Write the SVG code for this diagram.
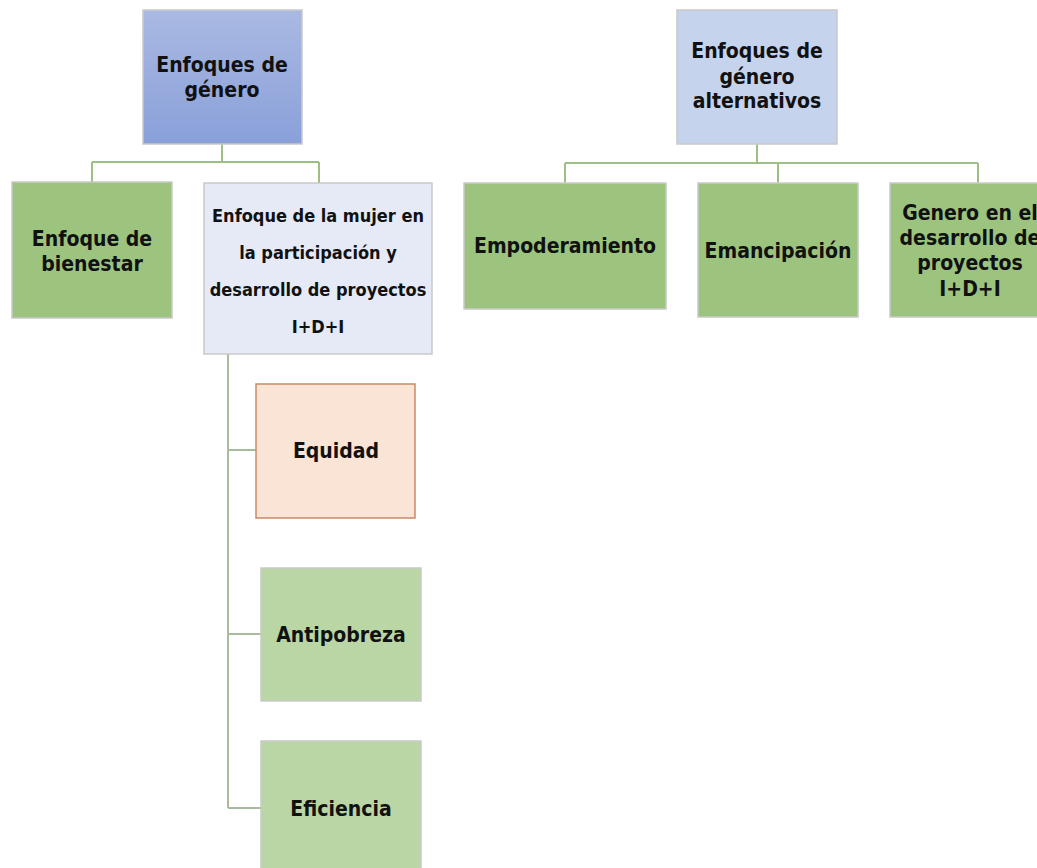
<svg xmlns="http://www.w3.org/2000/svg" width="1037" height="868" viewBox="0 0 1037 868">
<defs>
<linearGradient id="gBlue" x1="0" y1="0" x2="0" y2="1">
<stop offset="0" stop-color="#a9b9e2"/>
<stop offset="1" stop-color="#8aa0d9"/>
</linearGradient>
<style>
.box{stroke:#c9c9c9;stroke-width:1.5}
.t{font-family:"DejaVu Sans",Verdana,sans-serif;font-weight:bold;font-stretch:condensed;fill:#111;text-anchor:middle}
.c{fill:none;stroke:#9dbf86;stroke-width:2}
.c2{fill:none;stroke:#a9bb9d;stroke-width:2}
</style>
</defs>
<rect width="1037" height="868" fill="#ffffff"/>
<g id="connectors">
<path class="c" d="M222,144 V162 M92,162 H319 M92,162 V182 M319,162 V183"/>
<path class="c" d="M757,144 V162 M565,163 H978 M565,163 V183 M778,163 V183 M978,163 V183"/>
<path class="c2" d="M228,354 V808 M228,450 H256 M228,634 H261 M228,808 H261"/>
</g>
<g id="root1">
<rect class="box" x="143" y="10" width="159" height="134" fill="url(#gBlue)"/>
<text class="t" font-size="21" x="222" y="72">Enfoques de</text>
<text class="t" font-size="21" x="222" y="97">género</text>
</g>
<g id="bienestar">
<rect class="box" x="12" y="182" width="160" height="136" fill="#9cc47f"/>
<text class="t" font-size="21" x="92" y="246">Enfoque de</text>
<text class="t" font-size="21" x="92" y="271">bienestar</text>
</g>
<g id="mujer">
<rect class="box" x="204" y="183" width="228" height="171" fill="#e5eaf6"/>
<text class="t" font-size="18" x="318" y="222">Enfoque de la mujer en</text>
<text class="t" font-size="18" x="318" y="259">la participación y</text>
<text class="t" font-size="18" x="318" y="296">desarrollo de proyectos</text>
<text class="t" font-size="18" x="318" y="333">I+D+I</text>
</g>
<g id="equidad">
<rect x="256" y="384" width="159" height="134" fill="#fae4d6" stroke="#c98a66" stroke-width="1.5"/>
<text class="t" font-size="21" x="336" y="458">Equidad</text>
</g>
<g id="antipobreza">
<rect class="box" x="261" y="568" width="160" height="133" fill="#b9d6a4"/>
<text class="t" font-size="21" x="341" y="642">Antipobreza</text>
</g>
<g id="eficiencia">
<rect class="box" x="261" y="741" width="160" height="140" fill="#b9d6a4"/>
<text class="t" font-size="21" x="341" y="816">Eficiencia</text>
</g>
<g id="root2">
<rect class="box" x="677" y="10" width="160" height="134" fill="#c5d3ec"/>
<text class="t" font-size="21" x="757" y="58">Enfoques de</text>
<text class="t" font-size="21" x="757" y="84">género</text>
<text class="t" font-size="21" x="757" y="108">alternativos</text>
</g>
<g id="empoderamiento">
<rect class="box" x="464" y="183" width="202" height="126" fill="#9cc47f"/>
<text class="t" font-size="21" x="565" y="253">Empoderamiento</text>
</g>
<g id="emancipacion">
<rect class="box" x="698" y="183" width="160" height="134" fill="#9cc47f"/>
<text class="t" font-size="21" x="778" y="258">Emancipación</text>
</g>
<g id="genero">
<rect class="box" x="890" y="183" width="160" height="134" fill="#9cc47f"/>
<text class="t" font-size="21" x="970" y="220">Genero en el</text>
<text class="t" font-size="21" x="970" y="245">desarrollo de</text>
<text class="t" font-size="21" x="970" y="270">proyectos</text>
<text class="t" font-size="21" x="970" y="296">I+D+I</text>
</g>
</svg>
